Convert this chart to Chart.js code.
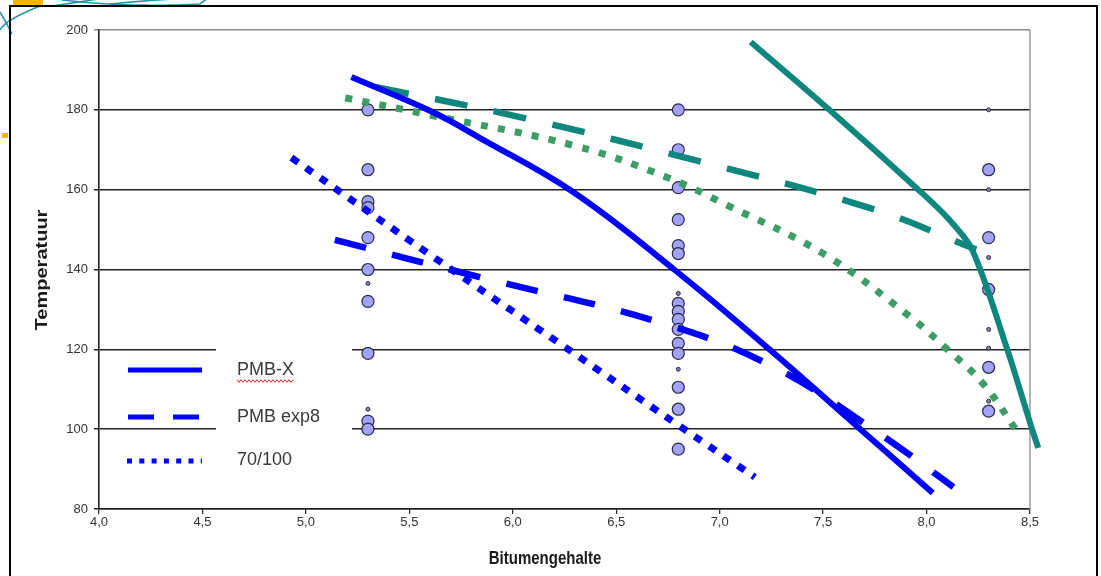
<!DOCTYPE html>
<html><head><meta charset="utf-8">
<script src="https://cdn.jsdelivr.net/npm/chart.js@4.4.1/dist/chart.umd.min.js"></script>
<style>html,body{margin:0;padding:0;background:#fff;}canvas{display:block;}</style>
</head><body>
<canvas id="c" width="1101" height="576"></canvas>
<script>
// ---- axis settings (tick labels) ----
const xMin = 4.0, xMax = 8.5, xStep = 0.5;
const yMin = 80, yMax = 200, yStep = 20;
const xTitle = 'Bitumengehalte';
const yTitle = 'Temperatuur';
const legendNames = ['PMB-X', 'PMB exp8', '70/100'];

// ---- measured points (Bitumengehalte columns) ----
const measureColumns = [5.3, 6.8, 8.3];
const tempsAt53 = [180, 165, 157, 155.5, 148, 140, 132, 119, 102, 100];
const tempsAt53Minor = [181, 136.5, 105];
const tempsAt68 = [180, 170, 160.5, 152.5, 146, 144, 131.5, 129.5, 127.5, 125, 121.5, 119, 110.5, 105, 95];
const tempsAt68Minor = [134, 115];
const tempsAt83 = [165, 148, 135, 115.5, 104.5];
const tempsAt83Minor = [180, 160, 143, 125, 120.3, 107];

// ---- fitted curves ----
const pmbX_x = [5.22, 5.61, 5.84, 6.29, 6.78, 7.24, 7.68, 8.03];
const pmbX_y = [188.2, 179.5, 173, 159.5, 140, 120, 100, 84];
const pmbExp8_x = [5.14, 5.84, 6.72, 7.26, 7.76, 8.13];
const pmbExp8_y = [147.4, 138.1, 126.6, 115.6, 99.3, 85.5];
const b70100_x = [4.93, 5.62, 6.24, 6.8, 7.17];
const b70100_y = [168, 143, 121, 101, 88];
const tealSolid_x = [7.15, 7.53, 7.96, 8.1, 8.22, 8.39, 8.51, 8.54];
const tealSolid_y = [197, 180, 160, 153, 145, 120, 100, 95.3];
const tealDash_x = [5.34, 6.05, 6.91, 7.75, 8.24];
const tealDash_y = [185.7, 178, 167, 155, 145];
const greenDot_x = [5.19, 5.6, 6.3, 6.75, 7.04, 7.5, 7.91, 8.1, 8.27, 8.44];
const greenDot_y = [183, 178.7, 171, 163, 156, 144, 128.6, 120, 111.6, 99.3];

// ---- build helpers ----
const zip = (xs, ys) => xs.map((x, i) => ({x, y: ys[i]}));
const col = (x, ys) => ys.map(y => ({x, y}));
const majorPts = [].concat(col(measureColumns[0], tempsAt53), col(measureColumns[1], tempsAt68), col(measureColumns[2], tempsAt83));
const minorPts = [].concat(col(measureColumns[0], tempsAt53Minor), col(measureColumns[1], tempsAt68Minor), col(measureColumns[2], tempsAt83Minor));

const FONT = "'Liberation Sans', Arial, sans-serif";
const BLUE = '#0000ff', TEAL = '#10877e', GREEN = '#3d9d68';

function lineDs(label, data, color, width, dash, extra) {
  return Object.assign({
    label, data, showLine: true, borderColor: color, backgroundColor: color,
    borderWidth: width, borderDash: dash, pointRadius: 0, pointHoverRadius: 0,
    tension: 0.4, borderCapStyle: 'butt', order: 1, fill: false
  }, extra || {});
}

const decor = {
  id: 'decor',
  beforeDraw(chart) {
    const c = chart.ctx;
    c.save();
    c.fillStyle = '#fff'; c.fillRect(0, 0, chart.width, chart.height);
    c.strokeStyle = '#2a8fa8'; c.lineWidth = 1.6;
    c.beginPath(); c.moveTo(0, 12); c.quadraticCurveTo(6, 22, 12, 34); c.stroke();
    c.beginPath(); c.moveTo(0, 30); c.quadraticCurveTo(5, 20, 40, 6); c.stroke();
    c.beginPath(); c.moveTo(52, 6); c.quadraticCurveTo(80, 2, 104, -2); c.stroke();
    c.beginPath(); c.moveTo(62, 0); c.quadraticCurveTo(130, 8, 200, 4); c.lineTo(208, -2); c.stroke();
    c.beginPath(); c.moveTo(110, 4); c.quadraticCurveTo(150, 0, 190, -2); c.stroke();
    c.fillStyle = '#f4b400';
    c.fillRect(13, 0, 30, 5);
    c.fillRect(2, 133, 6, 5);
    c.strokeStyle = '#000'; c.lineWidth = 2;
    c.strokeRect(10, 6, 1087, 600);
    c.restore();
  },
  beforeDatasetsDraw(chart) {
    const c = chart.ctx, a = chart.chartArea;
    c.save();
    c.strokeStyle = '#9a9a9a'; c.lineWidth = 1.5;
    c.beginPath(); c.moveTo(a.right, a.top); c.lineTo(a.right, a.bottom); c.stroke();
    c.fillStyle = '#fff';
    c.fillRect(216, 338, 136, 146);
    c.restore();
  },
  afterDatasetsDraw(chart) {
    const c = chart.ctx;
    c.save();
    c.strokeStyle = BLUE; c.lineWidth = 5; c.lineCap = 'butt';
    c.setLineDash([]);
    c.beginPath(); c.moveTo(128, 370); c.lineTo(202, 370); c.stroke();
    c.setLineDash([26, 19]);
    c.beginPath(); c.moveTo(128, 417); c.lineTo(202, 417); c.stroke();
    c.setLineDash([5, 7.3]);
    c.beginPath(); c.moveTo(127, 461); c.lineTo(202, 461); c.stroke();
    c.setLineDash([]);
    c.fillStyle = '#3a3a3a'; c.font = '18px ' + FONT;
    c.textAlign = 'left'; c.textBaseline = 'middle';
    c.fillText(legendNames[0], 237, 370);
    c.fillText(legendNames[1], 237, 417);
    c.fillText(legendNames[2], 237, 460);
    const w = c.measureText(legendNames[0]).width;
    c.strokeStyle = '#e02020'; c.lineWidth = 1;
    c.beginPath();
    for (let x = 237, i = 0; x <= 237 + w; x += 2, i++) {
      const y = 381 + (i % 2 ? 1.3 : -1.3);
      if (i === 0) c.moveTo(x, y); else c.lineTo(x, y);
    }
    c.stroke();
    c.fillStyle = '#1a1a1a';
    c.save();
    c.translate(545, 559); c.scale(1, 1.2);
    c.font = 'bold 15px ' + FONT; c.textAlign = 'center';
    c.fillText(xTitle, 0, 0);
    c.restore();
    c.save();
    c.translate(43, 270); c.rotate(-Math.PI / 2); c.scale(1.25, 1);
    c.font = 'bold 16px ' + FONT; c.textAlign = 'center';
    c.fillText(yTitle, 0, 0);
    c.restore();
    c.restore();
  }
};

new Chart(document.getElementById('c'), {
  type: 'scatter',
  data: {
    datasets: [
      lineDs(legendNames[0], zip(pmbX_x, pmbX_y), BLUE, 6, []),
      lineDs(legendNames[1], zip(pmbExp8_x, pmbExp8_y), BLUE, 6.5, [32, 27]),
      lineDs(legendNames[2], zip(b70100_x, b70100_y), BLUE, 7, [8, 9.5]),
      // reversed order so the part beyond the x-axis end is still drawn
      lineDs('teal', zip(tealSolid_x, tealSolid_y).reverse(), TEAL, 6, [], {clip: false, tension: 0.3}),
      lineDs('teal dashed', zip(tealDash_x, tealDash_y), TEAL, 6.5, [33, 27]),
      lineDs('green dotted', zip(greenDot_x, greenDot_y), GREEN, 7, [7, 10.3]),
      {label: 'metingen', data: majorPts, pointRadius: 6, pointBackgroundColor: '#a2a2fa',
       pointBorderColor: '#2b2b44', pointBorderWidth: 1.2, showLine: false, order: 2},
      {label: 'metingen klein', data: minorPts, pointRadius: 2, pointBackgroundColor: '#8080c0',
       pointBorderColor: '#333', pointBorderWidth: 1, showLine: false, order: 2}
    ]
  },
  options: {
    responsive: false, animation: false,
    layout: {padding: {left: 0, right: 71, top: 30, bottom: 0}},
    plugins: {legend: {display: false}, tooltip: {enabled: false}},
    scales: {
      x: {
        type: 'linear', min: xMin, max: xMax,
        afterFit(s) { s.height = 67; },
        ticks: {stepSize: xStep, color: '#333', font: {family: FONT, size: 13}, padding: 1,
                callback: v => v.toFixed(1).replace('.', ',')},
        grid: {drawOnChartArea: false, drawTicks: true, tickLength: 5, color: '#333', lineWidth: 1.3},
        border: {display: true, color: '#222', width: 1.6}
      },
      y: {
        type: 'linear', min: yMin, max: yMax,
        afterFit(s) { s.width = 99; },
        ticks: {stepSize: yStep, color: '#333', font: {family: FONT, size: 13}, padding: 6},
        grid: {drawTicks: true, tickLength: 5, lineWidth: 1.5,
               color: ctx => (ctx.tick && ctx.tick.value === yMax) ? '#8a8a8a' : '#222'},
        border: {display: true, color: '#222', width: 1.6}
      }
    }
  },
  plugins: [decor]
});
</script>
</body></html>
